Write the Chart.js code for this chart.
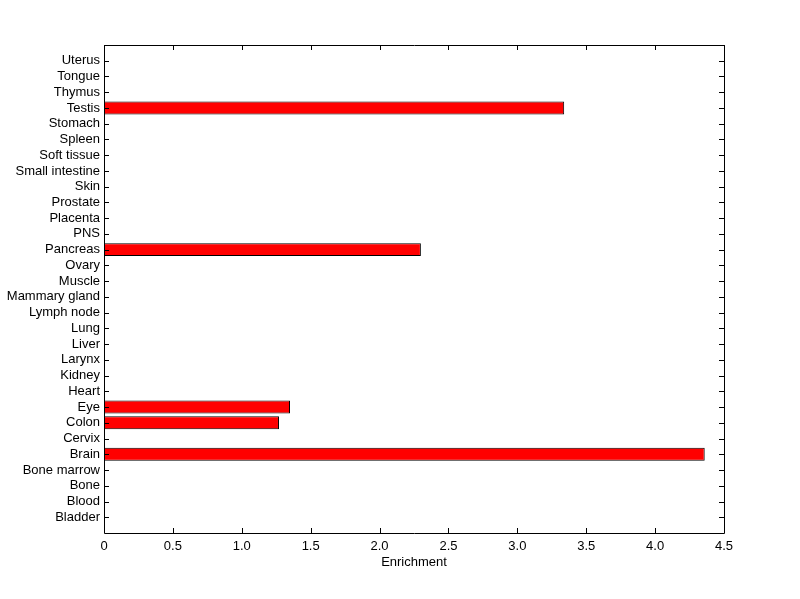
<!DOCTYPE html>
<html>
<head>
<meta charset="utf-8">
<script src="https://cdn.jsdelivr.net/npm/chart.js@4"></script>
<style>
  body { margin: 0; background: #fff; }
  canvas { display: block; }
</style>
</head>
<body>
<canvas id="enrichCanvas" width="800" height="599"></canvas>
<script>
// tissues, bottom to top as on the y axis
const tissues = ['Bladder', 'Blood', 'Bone', 'Bone marrow', 'Brain', 'Cervix', 'Colon', 'Eye',
    'Heart', 'Kidney', 'Larynx', 'Liver', 'Lung', 'Lymph node', 'Mammary gland', 'Muscle',
    'Ovary', 'Pancreas', 'PNS', 'Placenta', 'Prostate', 'Skin', 'Small intestine',
    'Soft tissue', 'Spleen', 'Stomach', 'Testis', 'Thymus', 'Tongue', 'Uterus'];
const enrichment = [0, 0, 0, 0, 4.36, 0, 1.27, 1.35,
    0, 0, 0, 0, 0, 0, 0, 0,
    0, 2.3, 0, 0, 0, 0, 0,
    0, 0, 0, 3.34, 0, 0, 0];
const xTicks = [0, 0.5, 1, 1.5, 2, 2.5, 3, 3.5, 4, 4.5];

const FONT = { family: 'Arial, "Liberation Sans", sans-serif', size: 13 };

// MATLAB style box with inward ticks on all four sides
const boxTicks = {
    id: 'boxTicks',
    afterDraw(chart) {
        const { ctx, chartArea: a, scales } = chart;
        const len = 5;
        ctx.save();
        ctx.strokeStyle = '#000';
        ctx.lineWidth = 1;
        ctx.beginPath();
        ctx.rect(Math.round(a.left) + 0.5, Math.round(a.top) + 0.5,
            Math.round(a.right - a.left), Math.round(a.bottom - a.top));
        xTicks.forEach(v => {
            const px = Math.round(scales.x.getPixelForValue(v)) + 0.5;
            ctx.moveTo(px, a.bottom); ctx.lineTo(px, a.bottom - len);
            ctx.moveTo(px, a.top); ctx.lineTo(px, a.top + len);
        });
        tissues.forEach((t, i) => {
            const py = Math.round(scales.y.getPixelForValue(i + 1)) + 0.5;
            ctx.moveTo(a.left, py); ctx.lineTo(a.left + len, py);
            ctx.moveTo(a.right, py); ctx.lineTo(a.right - len, py);
        });
        ctx.stroke();
        ctx.restore();
    }
};

const ctx = document.getElementById('enrichCanvas').getContext('2d');
new Chart(ctx, {
    type: 'bar',
    data: {
        datasets: [{
            data: tissues.map((t, i) => ({ x: enrichment[i], y: i + 1 })),
            backgroundColor: '#ff0000',
            borderColor: '#000',
            borderWidth: 1,
            borderSkipped: false,
            barPercentage: 0.82,
            categoryPercentage: 1
        }]
    },
    options: {
        indexAxis: 'y',
        responsive: false,
        animation: false,
        layout: { padding: { top: 45, right: 76, bottom: 26, left: 0 } },
        plugins: { legend: { display: false }, tooltip: { enabled: false } },
        scales: {
            x: {
                type: 'linear',
                min: 0,
                max: 4.5,
                afterBuildTicks: s => { s.ticks = xTicks.map(v => ({ value: v })); },
                afterFit: s => { s.height = 40; },
                grid: { display: false, drawTicks: false },
                border: { display: false },
                ticks: { color: '#000', font: FONT, padding: 6, maxRotation: 0 },
                title: {
                    display: true, text: 'Enrichment', color: '#000', font: FONT,
                    padding: { top: 0, bottom: 3 }
                }
            },
            y: {
                type: 'linear',
                offset: false,
                min: 0,
                max: 31,
                afterBuildTicks: s => { s.ticks = tissues.map((t, i) => ({ value: i + 1 })); },
                afterFit: s => { s.width = 104; },
                grid: { display: false, drawTicks: false, offset: false },
                border: { display: false },
                ticks: {
                    color: '#000', font: FONT, padding: 4, autoSkip: false,
                    callback: v => tissues[v - 1]
                }
            }
        }
    },
    plugins: [boxTicks]
});
</script>
</body>
</html>
